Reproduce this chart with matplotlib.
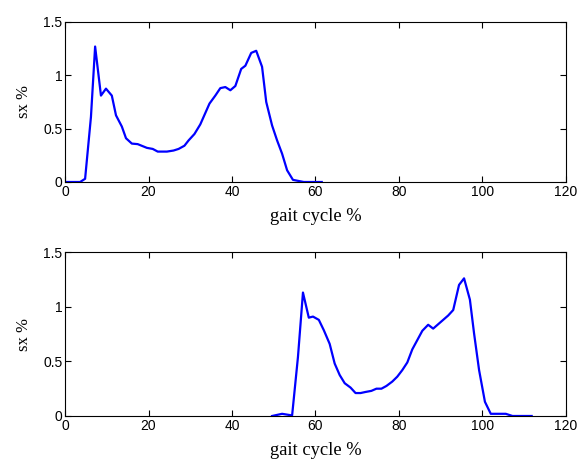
import numpy as np
import matplotlib.pyplot as plt

# gait cycle % vs sx % (first step, top panel)
x1 = [0, 3.6, 4.8, 6.2, 7.2, 8.6, 9.8, 11.2, 12.2, 13.6, 14.6, 16.0, 17.4, 19.6, 21.0,
      22.2, 24.4, 26.0, 27.2, 28.6, 29.6, 31.0, 32.4, 34.6, 36.0, 37.2, 38.4, 39.6, 40.8,
      42.2, 43.2, 44.6, 45.8, 47.2, 48.2, 49.6, 50.8, 52.0, 53.2, 54.6, 57.2, 61.5]
y1 = [0, 0, 0.03, 0.61, 1.27, 0.81, 0.875, 0.81, 0.625, 0.52, 0.41, 0.36, 0.355, 0.32, 0.31,
      0.285, 0.285, 0.295, 0.31, 0.34, 0.39, 0.45, 0.54, 0.735, 0.81, 0.88, 0.89, 0.86, 0.9,
      1.06, 1.09, 1.21, 1.23, 1.08, 0.75, 0.53, 0.39, 0.265, 0.11, 0.02, 0.0, 0.0]

# second step, bottom panel
x2 = [49.6, 52.0, 54.4, 55.8, 57.0, 58.4, 59.4, 60.8, 62.0, 63.4, 64.6, 65.8, 67.0, 68.4,
      69.6, 70.8, 72.0, 73.4, 74.6, 75.8, 77.0, 78.4, 79.6, 80.8, 82.0, 83.2, 84.4, 85.6,
      87.0, 88.2, 89.4, 90.6, 91.8, 93.0, 94.4, 95.6, 97.0, 98.0, 99.2, 100.6, 102.0, 105.6,
      107.2, 111.8]
y2 = [0, 0.02, 0.005, 0.54, 1.13, 0.90, 0.91, 0.88, 0.785, 0.66, 0.48, 0.375, 0.30, 0.26,
      0.21, 0.21, 0.22, 0.23, 0.25, 0.25, 0.275, 0.315, 0.36, 0.42, 0.49, 0.61, 0.695, 0.78,
      0.835, 0.80, 0.84, 0.88, 0.92, 0.97, 1.20, 1.26, 1.065, 0.755, 0.42, 0.13, 0.02, 0.02,
      0.0, 0.0]

xticks = [0, 20, 40, 60, 80, 100, 120]
yticks = [0, 0.5, 1, 1.5]
yticklabels = ['0', '0.5', '1', '1.5']

plt.rcParams['font.family'] = 'Liberation Sans'
fig = plt.figure(figsize=(5.81, 4.59), dpi=100)
ax1 = fig.add_axes([0.112, 0.6035, 0.862, 0.3486])
ax2 = fig.add_axes([0.112, 0.0937, 0.862, 0.357])

for ax, x, y in [(ax1, x1, y1), (ax2, x2, y2)]:
    ax.plot(x, y, color=(0, 0, 1), lw=1.6)
    ax.set_xlim(0, 120)
    ax.set_ylim(0, 1.5)
    ax.set_xticks(xticks)
    ax.set_yticks(yticks)
    ax.set_yticklabels(yticklabels)
    ax.tick_params(direction='in', top=True, right=True, labelsize=10, length=4, pad=2)
    ax.set_xlabel('gait cycle %', family='Liberation Serif', fontsize=13.3, labelpad=6.5)
    ax.set_ylabel('sx %', family='Liberation Serif', fontsize=12, labelpad=8)

fig.savefig('out.png', dpi=100)
